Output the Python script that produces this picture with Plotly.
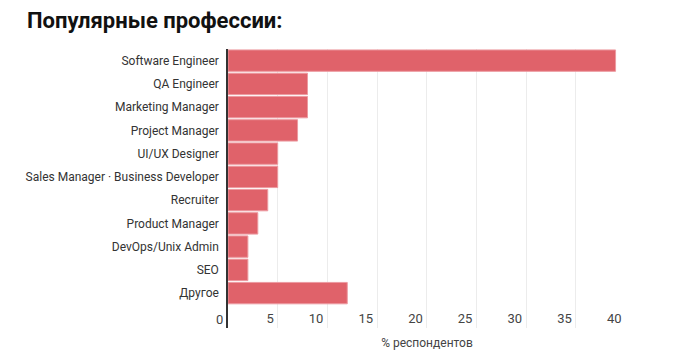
import plotly.graph_objects as go

categories = ["Software Engineer", "QA Engineer", "Marketing Manager", "Project Manager",
              "UI/UX Designer", "Sales Manager · Business Developer", "Recruiter",
              "Product Manager", "DevOps/Unix Admin", "SEO", "Другое"]
values = [39, 8, 8, 7, 5, 5, 4, 3, 2, 2, 12]
x_ticks = [0, 5, 10, 15, 20, 25, 30, 35, 40]

W, H = 696, 363
L, R, T, B = 228, 70, 49, 35

fig = go.Figure(go.Bar(
    x=values, y=categories, orientation="h",
    marker=dict(color="#e0626a", line=dict(color="#ec9aa0", width=1)),
    width=0.92,
))

fig.update_layout(
    width=W, height=H,
    margin=dict(l=L, r=R, t=T, b=B, autoexpand=False),
    paper_bgcolor="white", plot_bgcolor="white",
    font=dict(family="Roboto, sans-serif", size=12, color="#333333"),
    title=dict(text="<b>Популярные профессии:</b>", xref="container", yref="container",
               x=27 / W, xanchor="left", y=1 - 20 / H, yanchor="middle",
               font=dict(family="Roboto, sans-serif", size=22, color="#111111")),
    showlegend=False,
    bargap=0.08,
)

fig.update_xaxes(
    range=[0, 40.05], tickvals=x_ticks, ticktext=[str(v) for v in x_ticks],
    showgrid=True, gridcolor="#ececec", gridwidth=1, zeroline=False,
    ticklabelposition="inside left", ticklabelstandoff=-4, ticklabelshift=-4,
    tickfont=dict(size=13, color="#444444"),
    ticks="", showline=False, automargin=False,
    title=dict(text="% респондентов", font=dict(size=12, color="#444444"), standoff=13),
)

fig.update_yaxes(
    categoryorder="array", categoryarray=categories,
    range=[11.5, -0.5], automargin=False,
    showline=True, linecolor="#333333", linewidth=1.5,
    showgrid=False, ticks="", ticklabelstandoff=5,
    tickfont=dict(size=12, color="#333333"),
)

fig.add_annotation(
    x=0, xref="x", y=0.029, yref="paper", xanchor="right", yanchor="middle",
    xshift=-3, text=str(x_ticks[0]), showarrow=False,
    font=dict(size=13, color="#444444"),
)

fig.write_html("out.html", config={"displayModeBar": False},
               post_script="document.body.style.margin='0';")
